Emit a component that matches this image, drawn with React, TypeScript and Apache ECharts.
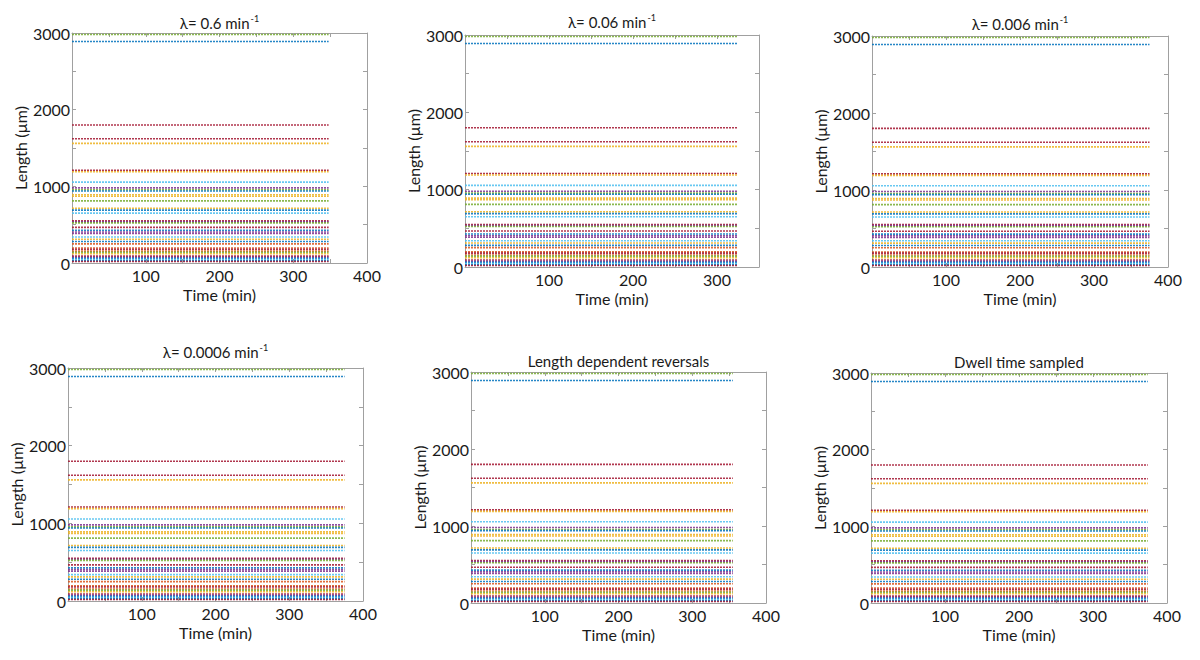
import React, { useEffect, useRef } from "react";
import * as echarts from "echarts";

// Filament lengths (µm) (top to bottom)
const LEVELS = [
  2980, 2890, 1800, 1620, 1560, 1210, 1190, 1055, 980, 955, 940, 890, 870, 810,
  715, 690, 650, 550, 537, 523, 465, 427, 405, 385, 340, 310, 280, 250, 195, 180,
  155, 140, 120, 90, 75, 60, 45, 30, 20,
];
const LEVEL_COLORS = [
  "green", "blue", "darkred", "darkred", "yellow", "darkred", "yellow", "lightblue",
  "purple", "green", "blue", "yellow", "yellow", "green", "yellow", "blue", "lightblue",
  "darkred", "purple", "green", "darkred", "blue", "purple", "purple", "lightblue",
  "yellow", "blue", "orange", "orange", "darkred", "orange", "green", "yellow",
  "darkred", "purple", "blue", "lightblue", "blue", "darkred",
];
const PALETTE: Record<string, string> = {
  blue: "#0072BD",
  orange: "#D95319",
  yellow: "#EDB120",
  purple: "#7E2F8E",
  green: "#77AC30",
  lightblue: "#4DBEEE",
  darkred: "#A2142F",
};

// titles: main text + superscript part
const TITLES = [
  "λ= 0.6 min",
  "λ= 0.06 min",
  "λ= 0.006 min",
  "λ= 0.0006 min",
  "Length dependent reversals",
  "Dwell time sampled",
];
const TITLE_SUPS = ["-1", "-1", "-1", "-1", "", ""];
const X_MAX = [400, 350, 400, 400, 400, 400];
const T_START = [0, 0, 0, 0, 0, 0];
const T_END = [348, 325, 375, 375, 355, 374];
const Y_MAX = 3000;

// layout of the six panels (px)
const GRIDS = [
  { left: 72, top: 33, width: 295, height: 230 },
  { left: 465, top: 35, width: 294, height: 232 },
  { left: 872, top: 36, width: 296, height: 231 },
  { left: 68, top: 368, width: 295, height: 233 },
  { left: 471, top: 372, width: 295, height: 231 },
  { left: 871, top: 373, width: 296, height: 230 },
];
const TITLE_Y = [23, 22, 24, 352, 361, 362];

const FONT = "Lato, 'Noto Sans', sans-serif";
const AXIS_COLOR = "#a0a0a0";
const TEXT_COLOR = "#1a1a1a";

export default function App() {
  const ref = useRef<HTMLDivElement>(null);
  useEffect(() => {
    if (!ref.current) return;
    const chart = echarts.init(ref.current, undefined, { renderer: "svg" });

    const grid: any[] = [];
    const xAxis: any[] = [];
    const yAxis: any[] = [];
    const series: any[] = [];
    const graphic: any[] = [];

    GRIDS.forEach((g, i) => {
      grid.push({ ...g, show: false });
      const tick = { show: true, inside: true, length: 4, lineStyle: { color: AXIS_COLOR } };
      const line = { show: true, onZero: false, lineStyle: { color: AXIS_COLOR, width: 1 } };
      xAxis.push({
        type: "value", gridIndex: i, min: 0, max: X_MAX[i], interval: 50, position: "bottom",
        axisLine: line, axisTick: tick, splitLine: { show: false },
        axisLabel: {
          color: TEXT_COLOR, fontFamily: FONT, fontSize: 16, margin: 4,
          formatter: (v: number) => (v > 0 && v % 100 === 0 ? String(v) : ""),
        },
        name: "Time (min)", nameLocation: "middle", nameGap: 23,
        nameTextStyle: { color: TEXT_COLOR, fontFamily: FONT, fontSize: 16 },
      });
      xAxis.push({
        type: "value", gridIndex: i, min: 0, max: X_MAX[i], interval: 50, position: "top",
        axisLine: line, axisTick: tick, splitLine: { show: false }, axisLabel: { show: false },
      });
      yAxis.push({
        type: "value", gridIndex: i, min: 0, max: Y_MAX, interval: 500, position: "left",
        axisLine: line, axisTick: tick, splitLine: { show: false },
        axisLabel: {
          color: TEXT_COLOR, fontFamily: FONT, fontSize: 16, margin: 2,
          formatter: (v: number) => (v % 1000 === 0 ? String(v) : ""),
        },
        name: "Length (µm)", nameLocation: "middle", nameGap: 43,
        nameTextStyle: { color: TEXT_COLOR, fontFamily: FONT, fontSize: 16 },
      });
      yAxis.push({
        type: "value", gridIndex: i, min: 0, max: Y_MAX, interval: 500, position: "right",
        axisLine: line, axisTick: tick, splitLine: { show: false }, axisLabel: { show: false },
      });

      LEVELS.forEach((lv, k) => {
        series.push({
          type: "line",
          xAxisIndex: 2 * i,
          yAxisIndex: 2 * i,
          data: [[T_START[i], lv], [T_END[i], lv]],
          showSymbol: false,
          silent: true,
          lineStyle: {
            color: PALETTE[LEVEL_COLORS[k]], width: 1.6, opacity: 0.85,
            type: [2, 1],
          },
          z: 2,
        });
      });

      const sup = TITLE_SUPS[i];
      graphic.push({
        type: "text",
        x: g.left + g.width / 2,
        y: TITLE_Y[i],
        style: {
          text: sup ? `{m|${TITLES[i]}}{s|${sup}}` : `{m|${TITLES[i]}}`,
          fill: TEXT_COLOR,
          textAlign: "center",
          textVerticalAlign: "middle",
          rich: {
            m: { fontFamily: FONT, fontSize: 15, lineHeight: 18, fill: TEXT_COLOR },
            s: { fontFamily: FONT, fontSize: 9, lineHeight: 18, verticalAlign: "top", fill: TEXT_COLOR, padding: [0, 0, 0, 1] },
          },
        },
      });
    });

    chart.setOption({
      animation: false,
      backgroundColor: "#fff",
      grid, xAxis, yAxis, series, graphic,
    });
    return () => chart.dispose();
  }, []);

  return (
    <div
      ref={ref}
      style={{ position: "fixed", left: 0, top: 0, width: 1200, height: 660 }}
    />
  );
}
